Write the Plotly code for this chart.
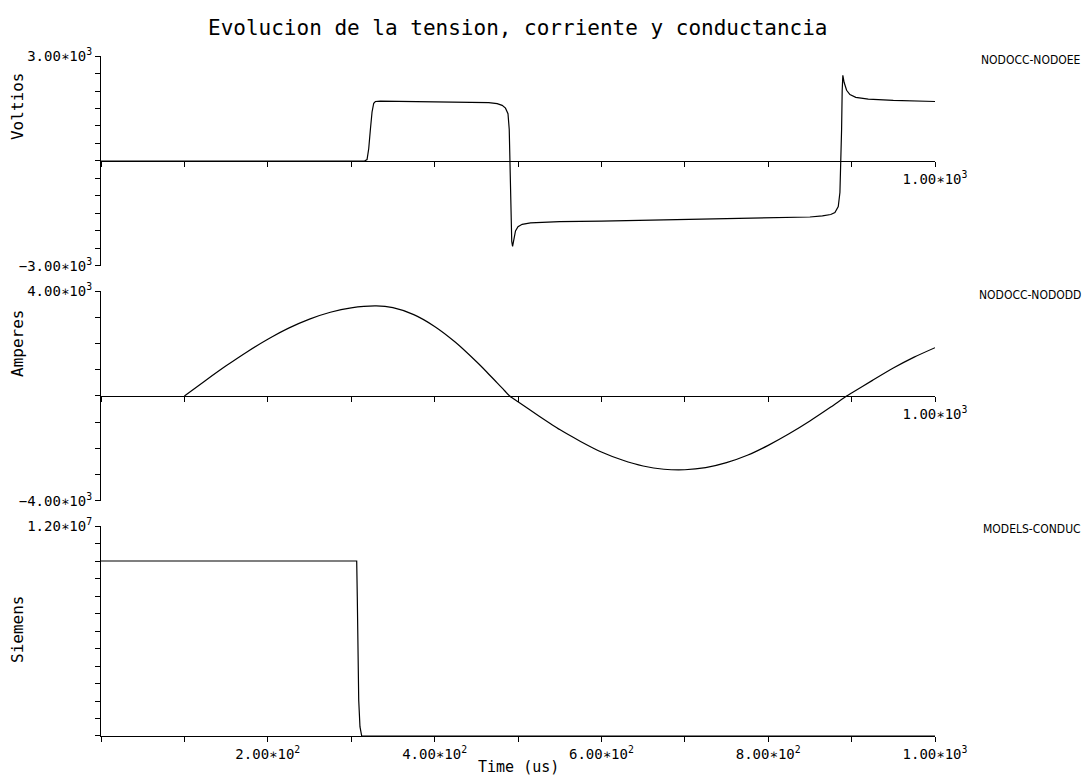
import plotly.graph_objects as go

# ---- data -------------------------------------------------------------
# Voltage NODOCC-NODOEE (V) vs time (us)
t_volt = [0, 316, 319, 321, 323, 325, 327, 329, 335, 360, 400, 440, 465, 475,
          481, 485, 488, 489.5, 490.5, 491.5, 492.5, 493.5, 495, 497, 500, 505,
          515, 530, 550, 600, 700, 800, 850, 865, 875, 880, 884, 886, 887, 888,
          888.7, 889.5, 891, 894, 898, 905, 920, 950, 1000]
v_volt = [0, 0, 40, 350, 900, 1400, 1650, 1700, 1710, 1705, 1700, 1690, 1670,
          1640, 1590, 1510, 1350, 900, -300, -1500, -2300, -2440, -2200, -2000,
          -1880, -1810, -1770, -1750, -1735, -1720, -1680, -1630, -1600, -1570,
          -1530, -1470, -1300, -900, -200, 900, 2000, 2450, 2250, 2020, 1900,
          1820, 1770, 1730, 1700]

# Current NODOCC-NODODD (A) vs time (us)
t_curr = [100, 125, 150, 175, 200, 225, 250, 275, 300, 330, 350, 375, 400, 425,
          450, 462.5, 475, 482, 490, 500, 525, 550, 575, 600, 625, 650, 675,
          700, 725, 750, 775, 800, 825, 850, 875, 894, 900, 925, 950, 975, 1000]
i_curr = [0, 583, 1149, 1680, 2164, 2585, 2929, 3190, 3357, 3430, 3364, 3100,
          2650, 2046, 1313, 916, 500, 270, 0, -220, -760, -1280, -1730, -2135,
          -2440, -2667, -2790, -2810, -2730, -2540, -2260, -1880, -1440, -950,
          -420, 0, 116, 595, 1065, 1480, 1840]

# Conductance MODELS-CONDUC (S) vs time (us)
t_cond = [0, 306.6, 307.3, 307.8, 309.0, 310.5, 312.6, 1000]
g_cond = [1.0e7, 1.0e7, 7.96e6, 5.3e6, 2.06e6, 5.3e5, 0, 0]

# axis ticks
x_ticks = list(range(0, 1001, 100))
x_bottom_labels = {200: "2.00∗10<sup>2</sup>", 400: "4.00∗10<sup>2</sup>",
                   600: "6.00∗10<sup>2</sup>", 800: "8.00∗10<sup>2</sup>",
                   1000: "1.00∗10<sup>3</sup>"}
x_end_label = {1000: "1.00∗10<sup>3</sup>"}

v_ticks = list(range(-3000, 3001, 500))
v_labels = {3000: "3.00∗10<sup>3</sup>", -3000: "−3.00∗10<sup>3</sup>"}
i_ticks = list(range(-4000, 4001, 1000))
i_labels = {4000: "4.00∗10<sup>3</sup>", -4000: "−4.00∗10<sup>3</sup>"}
g_ticks = [k * 1e6 for k in range(0, 13)]
g_labels = {12e6: "1.20∗10<sup>7</sup>"}

title_text = "Evolucion de la tension, corriente y conductancia"
series_names = ["NODOCC-NODOEE", "NODOCC-NODODD", "MODELS-CONDUC"]
y_titles = ["Voltios", "Amperes", "Siemens"]
x_title = "Time (us)"

# ---- layout geometry (paper fractions) -------------------------------
dom1 = [0.6912, 1.0]
dom2 = [0.3456, 0.6544]
dom3 = [0.0, 0.3088]

MONO = "DejaVu Sans Mono"
INK = "#000000"
tick_font = dict(family=MONO, size=14, color=INK)

fig = go.Figure()
line = dict(color=INK, width=1.2)
fig.add_trace(go.Scatter(x=t_volt, y=v_volt, mode="lines", line=line,
                         xaxis="x", yaxis="y", name=series_names[0]))
fig.add_trace(go.Scatter(x=t_curr, y=i_curr, mode="lines",
                         line=dict(color=INK, width=1.2, shape="spline",
                                   smoothing=0.6),
                         xaxis="x2", yaxis="y2", name=series_names[1]))
fig.add_trace(go.Scatter(x=t_cond, y=g_cond, mode="lines", line=line,
                         xaxis="x3", yaxis="y3", name=series_names[2]))


def xaxis(labels, anchor, position=None):
    ax = dict(range=[0, 1000], domain=[0, 1], showgrid=False, zeroline=False,
              showline=True, linecolor=INK, linewidth=1.2,
              ticks="outside", ticklen=5, tickwidth=1, tickcolor=INK,
              tickmode="array", tickvals=x_ticks,
              ticktext=[labels.get(v, "") for v in x_ticks],
              tickfont=tick_font, tickangle=0, fixedrange=True)
    if position is None:
        ax["anchor"] = anchor
    else:
        ax["anchor"] = "free"
        ax["position"] = position
    return ax


def yaxis(rng, dom, ticks, labels, anchor):
    return dict(range=rng, domain=dom, anchor=anchor, showgrid=False,
                zeroline=False, showline=True, linecolor=INK, linewidth=1.2,
                ticks="outside", ticklen=5, tickwidth=1, tickcolor=INK,
                tickmode="array", tickvals=ticks,
                ticktext=[labels.get(v, "") for v in ticks],
                tickfont=tick_font, fixedrange=True)


fig.update_layout(
    width=1086, height=778,
    margin=dict(l=101, r=151, t=56, b=42),
    paper_bgcolor="white", plot_bgcolor="white",
    showlegend=False,
    xaxis=xaxis(x_end_label, "y", position=(dom1[0] + dom1[1]) / 2),
    xaxis2=xaxis(x_end_label, "y2", position=(dom2[0] + dom2[1]) / 2),
    xaxis3=xaxis(x_bottom_labels, "y3"),
    yaxis=yaxis([-3000, 3000], dom1, v_ticks, v_labels, "x"),
    yaxis2=yaxis([-4000, 4000], dom2, i_ticks, i_labels, "x2"),
    yaxis3=yaxis([0, 1.2e7], dom3, g_ticks, g_labels, "x3"),
)

ann = []
ann.append(dict(text=title_text, xref="paper", yref="paper", x=0.5, y=1.041,
                xanchor="center", yanchor="middle", showarrow=False,
                font=dict(family=MONO, size=21, color=INK)))
for name, y in zip(series_names, [0.994, 0.6485, 0.3044]):
    ann.append(dict(text=name, xref="paper", yref="paper", x=1.1775, y=y,
                    xanchor="right", yanchor="middle", showarrow=False,
                    font=dict(family="Liberation Sans Narrow, DejaVu Sans Condensed, Liberation Sans",
                              size=12, color=INK)))
for name, y in zip(y_titles, [0.925, 0.5765, 0.156]):
    ann.append(dict(text=name, xref="paper", yref="paper", x=-0.0995, y=y,
                    xanchor="center", yanchor="middle", textangle=-90,
                    showarrow=False, font=dict(family=MONO, size=16, color=INK)))
ann.append(dict(text=x_title, xref="paper", yref="paper", x=0.5, y=-0.0456,
                xanchor="center", yanchor="middle", showarrow=False,
                font=dict(family=MONO, size=15, color=INK)))
fig.update_layout(annotations=ann)

fig.write_html("out.html")
